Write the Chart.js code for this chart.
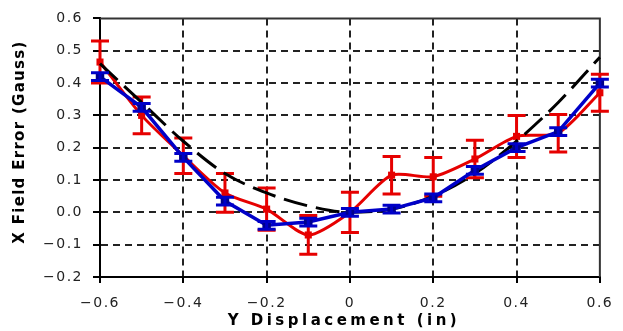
<!DOCTYPE html>
<html>
<head>
<meta charset="utf-8">
<script src="https://cdn.jsdelivr.net/npm/chart.js@4.4.1/dist/chart.umd.min.js"></script>
<style>
  html, body { margin: 0; padding: 0; background: #fff; }
  #wrap { width: 623px; height: 331px; }
</style>
</head>
<body>
<div id="wrap"><canvas id="fieldChart"></canvas></div>
<script>
// values
const yDisplacement = [-0.6, -0.5, -0.4, -0.3, -0.2, -0.1, 0.0, 0.1, 0.2, 0.3, 0.4, 0.5, 0.6];
const redField = [0.465, 0.30, 0.175, 0.06, 0.01, -0.07, 0.0, 0.115, 0.11, 0.165, 0.235, 0.245, 0.37];
const redError = [0.065, 0.057, 0.055, 0.06, 0.065, 0.06, 0.062, 0.058, 0.06, 0.058, 0.065, 0.058, 0.057];
const blueField = [0.42, 0.325, 0.17, 0.035, -0.04, -0.03, 0.0, 0.01, 0.045, 0.13, 0.20, 0.25, 0.40];
const blueError = [0.012, 0.012, 0.012, 0.012, 0.012, 0.012, 0.012, 0.012, 0.012, 0.012, 0.012, 0.012, 0.012];
const fitField = [0.46, 0.34, 0.22, 0.12, 0.06, 0.02, 0.0, 0.01, 0.05, 0.12, 0.22, 0.34, 0.48];

const xTickValues = [-0.6, -0.4, -0.2, 0, 0.2, 0.4, 0.6];
const xTickLabels = ["\u22120.6", "\u22120.4", "\u22120.2", "0", "0.2", "0.4", "0.6"];
const yTickValues = [-0.2, -0.1, 0, 0.1, 0.2, 0.3, 0.4, 0.5, 0.6];
const yTickLabels = ["\u22120.2", "\u22120.1", "0.0", "0.1", "0.2", "0.3", "0.4", "0.5", "0.6"];

const xTitle = "Y Displacement (in)";
const yTitle = "X Field Error (Gauss)";

function toPoints(values) {
  return yDisplacement.map((x, i) => ({ x: x, y: values[i] }));
}

// vertical error bars with caps, drawn right after their dataset
const errorBars = {
  id: "errorBars",
  afterDatasetDraw(chart, args) {
    const ds = chart.data.datasets[args.index];
    if (!ds.errors) return;
    const xScale = chart.scales.x;
    const yScale = chart.scales.y;
    const ctx = chart.ctx;
    const cap = ds.capHalf;
    ctx.save();
    ctx.strokeStyle = ds.borderColor;
    ctx.lineWidth = ds.errorWidth;
    ds.data.forEach((pt, i) => {
      const px = xScale.getPixelForValue(pt.x);
      const top = yScale.getPixelForValue(pt.y + ds.errors[i]);
      const bot = yScale.getPixelForValue(pt.y - ds.errors[i]);
      ctx.beginPath();
      ctx.moveTo(px, top);
      ctx.lineTo(px, bot);
      ctx.moveTo(px - cap, top);
      ctx.lineTo(px + cap, top);
      ctx.moveTo(px - cap, bot);
      ctx.lineTo(px + cap, bot);
      ctx.stroke();
    });
    ctx.restore();
  },
};

// top and right edges of the plot box
const frame = {
  id: "frame",
  beforeDatasetsDraw(chart) {
    const { ctx, chartArea } = chart;
    ctx.save();
    ctx.strokeStyle = "#333";
    ctx.lineWidth = 2;
    ctx.beginPath();
    ctx.moveTo(chartArea.left, chartArea.top);
    ctx.lineTo(chartArea.right, chartArea.top);
    ctx.lineTo(chartArea.right, chartArea.bottom);
    ctx.stroke();
    ctx.restore();
  },
};

// spaced-out tick lettering, like the old Mac font of the original
const wideTicks = {
  id: "wideTicks",
  beforeDraw(chart) {
    chart.ctx.letterSpacing = "1.5px";
  },
  afterDraw(chart) {
    chart.ctx.letterSpacing = "0px";
  },
};

// axis titles, wide bold lettering like the original
const axisTitles = {
  id: "axisTitles",
  afterDraw(chart) {
    const { ctx, chartArea } = chart;
    ctx.save();
    ctx.fillStyle = "#000";
    ctx.font = "bold 15px 'DejaVu Sans'";
    ctx.textAlign = "center";
    ctx.textBaseline = "middle";
    ctx.letterSpacing = "3.5px";
    ctx.fillText(xTitle, (chartArea.left + chartArea.right) / 2 - 6, 321);
    ctx.translate(20, 142);
    ctx.rotate(-Math.PI / 2);
    ctx.letterSpacing = "1.3px";
    ctx.fillText(yTitle, 0, 0);
    ctx.restore();
  },
};

const tickFont = { family: "'DejaVu Sans'", size: 14 };

const ctx = document.getElementById("fieldChart").getContext("2d");
const fieldChart = new Chart(ctx, {
  type: "line",
  data: {
    datasets: [
      {
        label: "Red",
        data: toPoints(redField),
        errors: redError,
        errorWidth: 3,
        capHalf: 9,
        borderColor: "#e60000",
        backgroundColor: "#e60000",
        borderWidth: 3,
        tension: 0.25,
        pointStyle: "rect",
        pointRadius: 5,
        pointBorderWidth: 0,
        clip: false,
        order: 3,
      },
      {
        label: "Fit",
        data: toPoints(fitField),
        borderColor: "#000",
        borderWidth: 3,
        borderDash: [24, 9],
        cubicInterpolationMode: "monotone",
        pointRadius: 0,
        clip: false,
        order: 2,
      },
      {
        label: "Blue",
        data: toPoints(blueField),
        errors: blueError,
        errorWidth: 3,
        capHalf: 9,
        borderColor: "#0000c8",
        backgroundColor: "#00008c",
        borderWidth: 3.5,
        tension: 0,
        pointStyle: "rect",
        pointRadius: 6,
        pointBorderWidth: 0,
        clip: false,
        order: 1,
      },
    ],
  },
  options: {
    responsive: true,
    maintainAspectRatio: false,
    animation: false,
    layout: { padding: { top: 15, right: 23, bottom: 0, left: 0 } },
    plugins: {
      legend: { display: false },
      tooltip: { enabled: false },
    },
    scales: {
      x: {
        type: "linear",
        min: -0.6,
        max: 0.6,
        afterBuildTicks: (scale) => {
          scale.ticks = xTickValues.map((v) => ({ value: v }));
        },
        afterFit: (scale) => {
          scale.height = 54;
        },
        ticks: {
          font: tickFont,
          color: "#222",
          padding: 12,
          maxRotation: 0,
          callback: (value, index) => xTickLabels[index],
        },
        grid: {
          lineWidth: 2,
          color: (c) => (c.index === 0 || c.index === xTickValues.length - 1 ? "rgba(0,0,0,0)" : "#222"),
          tickColor: "#000",
          tickLength: 6,
        },
        border: { color: "#000", width: 2, dash: [7, 5] },
      },
      y: {
        type: "linear",
        min: -0.2,
        max: 0.6,
        afterBuildTicks: (scale) => {
          scale.ticks = yTickValues.map((v) => ({ value: v }));
        },
        afterFit: (scale) => {
          scale.width = 100;
        },
        ticks: {
          font: tickFont,
          color: "#222",
          padding: 10,
          callback: (value, index) => yTickLabels[index],
        },
        grid: {
          lineWidth: 2,
          color: (c) => (c.index === 0 || c.index === yTickValues.length - 1 ? "rgba(0,0,0,0)" : "#222"),
          tickColor: "#000",
          tickLength: 7,
        },
        border: { color: "#000", width: 2, dash: [7, 5] },
      },
    },
  },
  plugins: [wideTicks, frame, errorBars, axisTitles],
});
</script>
</body>
</html>
